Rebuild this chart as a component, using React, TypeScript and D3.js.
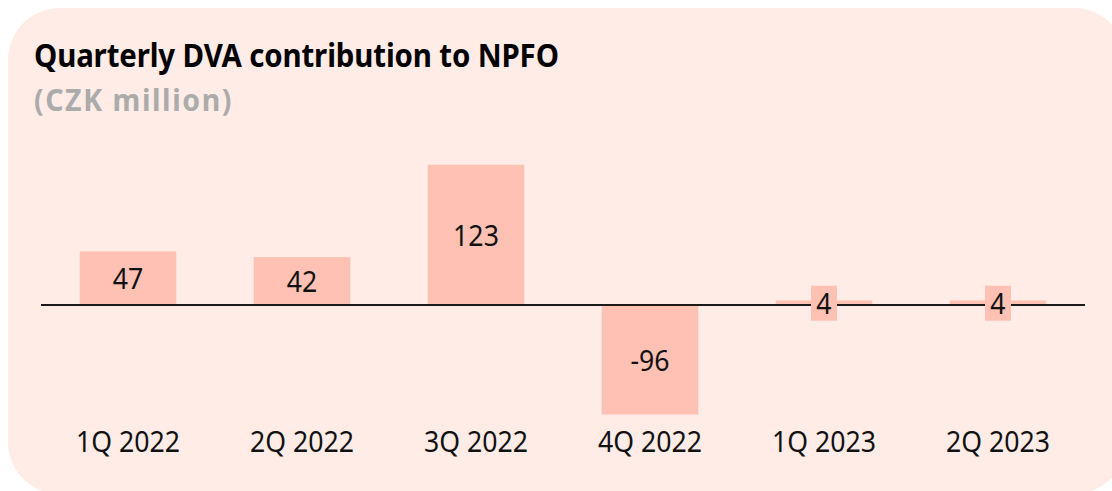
import React from 'react';
import * as d3 from 'd3';

// chart data
const quarters = ['1Q 2022', '2Q 2022', '3Q 2022', '4Q 2022', '1Q 2023', '2Q 2023'];
const dvaValues = [47, 42, 123, -96, 4, 4];
const titleText = 'Quarterly DVA contribution to NPFO';
const unitText = '(CZK million)';

const W = 1112;
const H = 491;
const BG = '#FFECE6';
const BAR = '#FFC1B4';
const FONT = "'Noto Sans', sans-serif";
const SX = 0.92; // text in the source is a little condensed

export default function App() {
  const x = d3.scaleBand<string>()
    .domain(quarters)
    .range([41, 1085])
    .paddingInner(0.445)
    .paddingOuter(0.2225);

  const y = d3.scaleLinear()
    .domain([-96, 123])
    .range([414.5, 164.7]);

  const zero = y(0);
  const data = quarters.map((q, i) => ({ q, v: dvaValues[i] }));

  return (
    <svg
      width={W}
      height={H}
      style={{ position: 'absolute', left: 0, top: 0, background: '#fff' }}
      fontFamily={FONT}
    >
      <rect x={8} y={8} width={1118} height={486} rx={52} ry={52} fill={BG} />

      <text transform={`translate(34,67) scale(${SX},1)`} fontSize={32} fontWeight={700} letterSpacing={-0.15} fill="#000">
        {titleText}
      </text>
      <text transform={`translate(34,111) scale(${SX},1)`} fontSize={31} fontWeight={700} letterSpacing={1.7} fill="#ABABAB">
        {unitText}
      </text>

      <g>
        {data.map(d => (
          <rect
            key={d.q}
            x={x(d.q)}
            y={Math.min(y(d.v), zero)}
            width={x.bandwidth()}
            height={Math.abs(y(d.v) - zero)}
            fill={BAR}
          />
        ))}
      </g>

      <line x1={41} x2={1085} y1={zero} y2={zero} stroke="#1a1a1a" strokeWidth={2} />

      <g>
        {data.map(d => {
          const cx = (x(d.q) as number) + x.bandwidth() / 2;
          const mid = (y(d.v) + zero) / 2;
          const w = String(d.v).length * 14 + 12;
          return (
            <g key={d.q}>
              <rect x={cx - w / 2} y={mid - 17} width={w} height={35} fill={BAR} />
              <text
                transform={`translate(${cx},${mid + 11}) scale(${SX},1)`}
                textAnchor="middle"
                fontSize={29}
                fill="#111"
              >
                {d.v}
              </text>
            </g>
          );
        })}
      </g>

      <g>
        {quarters.map(q => (
          <text
            key={q}
            transform={`translate(${(x(q) as number) + x.bandwidth() / 2},452) scale(${SX},1)`}
            textAnchor="middle"
            fontSize={29}
            fill="#111"
          >
            {q}
          </text>
        ))}
      </g>
    </svg>
  );
}
